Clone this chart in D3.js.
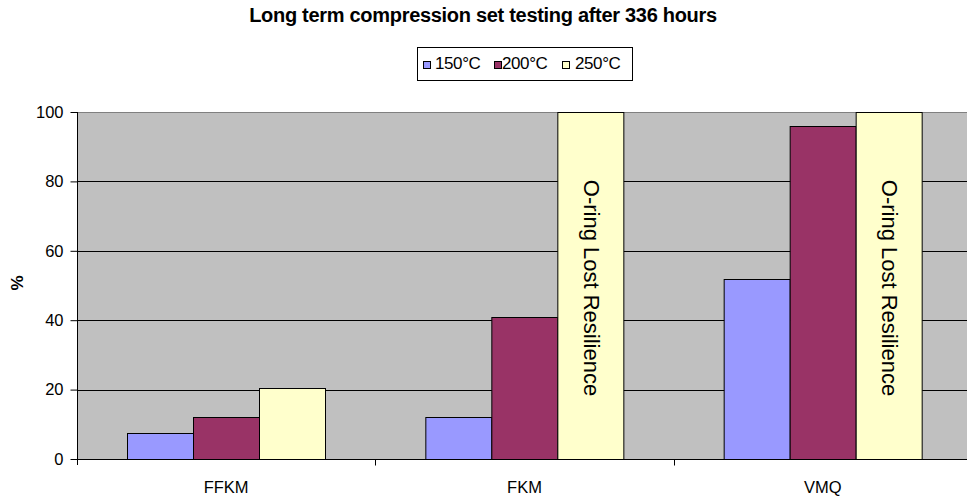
<!DOCTYPE html>
<html>
<head>
<meta charset="utf-8">
<script src="https://cdn.jsdelivr.net/npm/d3@7"></script>
<style>
  body { margin: 0; background: #fff; }
  text { font-family: "Liberation Sans", Arial, sans-serif; }
</style>
</head>
<body>
<svg id="chart" width="967" height="497"></svg>
<script>
// data
const categories = ['FFKM', 'FKM', 'VMQ']
const seriesNames = ['150°C', '200°C', '250°C']
const colors = ['#9999FF', '#993366', '#FFFFCC']
const v150 = [7.5, 12, 52]
const v200 = [12, 41, 96]
const v250 = [20.5, 100, 100]   // 100 = off the scale
const lostLabel = [null, 'O-ring Lost Resilience', 'O-ring Lost Resilience']
const yTicks = [0, 20, 40, 60, 80, 100]

const series = [v150, v200, v250]

const svg = d3.select('#chart')
const plotL = 77, plotT = 112, plotB = 459, plotR = 972
const fontTick = 16.5

const x = d3.scaleBand().domain(categories).range([plotL, plotR])
const x1 = d3.scaleBand().domain(seriesNames).range([0, x.bandwidth()]).paddingOuter(0.76)
const y = d3.scaleLinear().domain([0, 100]).range([plotB, plotT])

// plot background
svg.append('rect')
    .attr('x', plotL).attr('y', plotT)
    .attr('width', plotR - plotL).attr('height', plotB - plotT)
    .attr('fill', '#C0C0C0')

// top border
svg.append('line')
    .attr('x1', plotL).attr('x2', plotR)
    .attr('y1', plotT + 0.5).attr('y2', plotT + 0.5)
    .attr('stroke', '#808080')

// gridlines
svg.append('g').selectAll('line')
    .data(yTicks.filter(t => t > 0 && t < 100))
    .enter().append('line')
        .attr('x1', plotL).attr('x2', plotR)
        .attr('y1', d => Math.round(y(d)) + 0.5).attr('y2', d => Math.round(y(d)) + 0.5)
        .attr('stroke', '#000')

// bars
const groups = svg.append('g').selectAll('g')
    .data(categories)
    .enter().append('g')
        .attr('transform', d => `translate(${x(d)},0)`)

groups.selectAll('rect')
    .data((c, i) => series.map((s, j) => ({ name: seriesNames[j], value: s[i], color: colors[j] })))
    .enter().append('rect')
        .attr('x', d => Math.round(x1(d.name)) + 0.5)
        .attr('y', d => Math.round(y(d.value)) + 0.5)
        .attr('width', Math.round(x1.bandwidth()))
        .attr('height', d => Math.round(plotB - y(d.value)))
        .attr('fill', d => d.color)
        .attr('stroke', '#000')

// rotated labels on the clipped bars
groups.filter((c, i) => lostLabel[i])
    .append('text')
        .attr('transform', d => `translate(${x1('250°C') + x1.bandwidth() / 2 + 1},288) rotate(90)`)
        .attr('text-anchor', 'middle')
        .attr('dy', '0.35em')
        .attr('font-size', 22)
        .text((c) => lostLabel[categories.indexOf(c)])

// y axis
const yAxis = svg.append('g')
    .attr('transform', `translate(${plotL + 0.5},0)`)
    .call(d3.axisLeft(y).tickValues(yTicks).tickSize(7).tickPadding(7))
yAxis.select('.domain').attr('stroke', '#000').attr('d', `M0,${plotT}V${plotB + 6}`)
yAxis.selectAll('.tick line').attr('stroke', '#000')
yAxis.selectAll('text').attr('font-size', fontTick).attr('font-family', '"Liberation Sans", Arial, sans-serif').attr('fill', '#000')

// x axis
const xAxis = svg.append('g').attr('transform', `translate(0,${plotB + 0.5})`)
xAxis.append('line').attr('x1', plotL).attr('x2', plotR).attr('stroke', '#000')
xAxis.selectAll('.tk')
    .data(categories.slice(1))
    .enter().append('line')
        .attr('x1', d => Math.round(x(d)) + 0.5).attr('x2', d => Math.round(x(d)) + 0.5)
        .attr('y1', 0).attr('y2', 6)
        .attr('stroke', '#000')
xAxis.selectAll('text')
    .data(categories)
    .enter().append('text')
        .attr('x', d => x(d) + x.bandwidth() / 2)
        .attr('y', 33)
        .attr('text-anchor', 'middle')
        .attr('font-size', fontTick)
        .text(d => d)

// y label
svg.append('text')
    .attr('transform', `translate(23,283) rotate(-90)`)
    .attr('text-anchor', 'middle')
    .attr('font-size', 17)
    .attr('font-weight', 'bold')
    .text('%')

// title
svg.append('text')
    .attr('x', 483).attr('y', 22)
    .attr('text-anchor', 'middle')
    .attr('font-size', 20)
    .attr('font-weight', 'bold')
    .attr('letter-spacing', -0.3)
    .text('Long term compression set testing after 336 hours')

// legend
const legend = svg.append('g').attr('transform', 'translate(417,47)')
legend.append('rect')
    .attr('x', 0.5).attr('y', 0.5).attr('width', 215).attr('height', 33)
    .attr('fill', '#fff').attr('stroke', '#000')
const swatchX = [6, 77, 145]
const labelX = [18, 85, 158]
const item = legend.selectAll('.item')
    .data(seriesNames)
    .enter().append('g')
item.append('rect')
    .attr('x', (d, i) => swatchX[i] + 0.5).attr('y', 14.5).attr('width', 7).attr('height', 7)
    .attr('fill', (d, i) => colors[i]).attr('stroke', '#000')
item.append('text')
    .attr('x', (d, i) => labelX[i]).attr('y', 22)
    .attr('font-size', 17)
    .attr('letter-spacing', -0.4)
    .text(d => d)
</script>
</body>
</html>
